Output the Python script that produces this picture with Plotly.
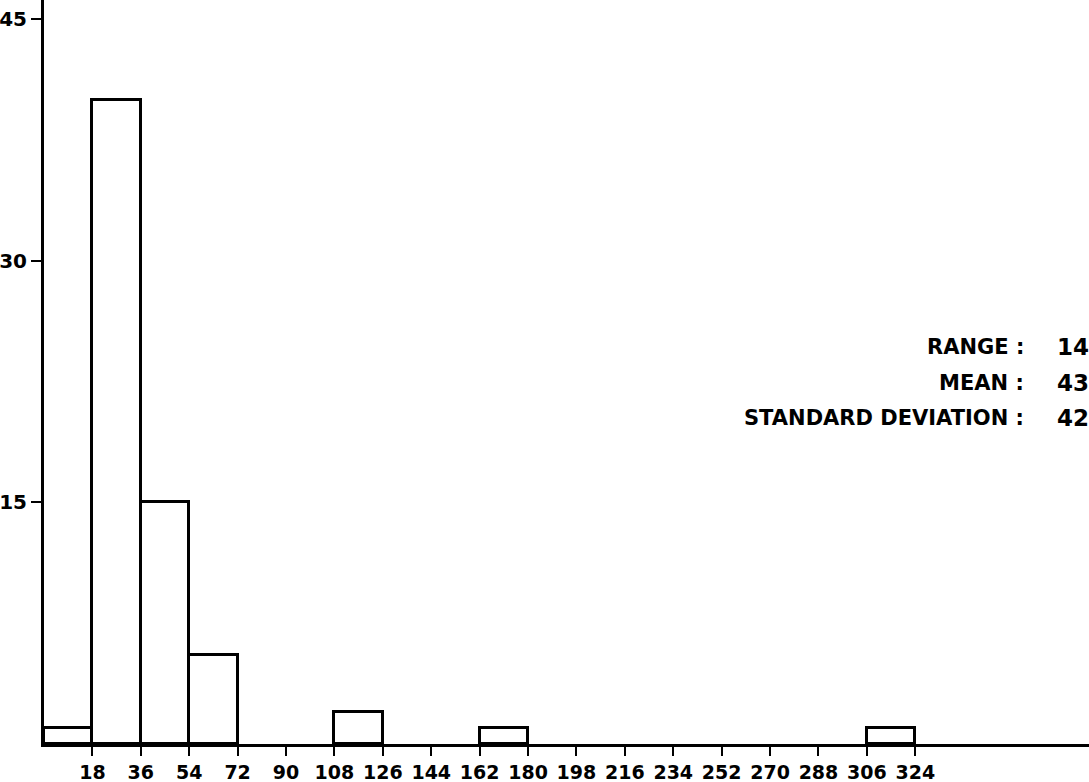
import plotly.graph_objects as go

# Frequency histogram, class width 18
bin_starts = [0, 18, 36, 54, 108, 162, 306]
counts = [1, 40, 15, 5.5, 2, 1, 1]
bin_width = 18

tick_vals = list(range(18, 325, 18))
tick_text = ["18", "36", "54", "72", "90", "108", "126", "144", "162", "180",
             "198", "216", "234", "252", "270", "288", "306", "324"]
y_ticks = [15, 30, 45]

stat_labels = ["RANGE :", "MEAN :", "STANDARD DEVIATION :"]
stat_values = ["14", "43", "42"]
stat_y = [24.65, 22.4, 20.25]

FONT = "DejaVu Sans"

fig = go.Figure()
fig.add_trace(go.Bar(
    x=[s + bin_width / 2 for s in bin_starts],
    y=counts,
    width=bin_width,
    marker=dict(color="white", line=dict(color="black", width=3)),
    hoverinfo="skip",
))

for lab, val, yv in zip(stat_labels, stat_values, stat_y):
    fig.add_annotation(x=0.9395, y=yv, xref="paper", yref="y", text=lab,
                       showarrow=False, xanchor="right", yanchor="middle",
                       font=dict(family=FONT, size=21, color="black", weight="bold"))
    fig.add_annotation(x=0.967, y=yv, xref="paper", yref="y", text=val,
                       showarrow=False, xanchor="left", yanchor="middle",
                       font=dict(family=FONT, size=23, color="black", weight="bold"))

fig.update_layout(
    width=1089, height=782,
    margin=dict(l=44, r=0, t=0, b=38),
    plot_bgcolor="white", paper_bgcolor="white",
    showlegend=False, bargap=0,
    xaxis=dict(range=[0, 388.6], tickvals=tick_vals, ticktext=tick_text,
               ticks="outside", ticklen=9, tickwidth=2, tickcolor="black",
               showline=True, linecolor="black", linewidth=3,
               showgrid=False, zeroline=False, automargin=False,
               tickfont=dict(family=FONT, size=19, color="black", weight="bold")),
    yaxis=dict(range=[0, 46.2], tickvals=y_ticks,
               ticks="outside", ticklen=10, tickwidth=2, tickcolor="black",
               showline=True, linecolor="black", linewidth=3,
               showgrid=False, zeroline=False, automargin=False,
               tickfont=dict(family=FONT, size=20, color="black", weight="bold")),
)

fig.write_html("out.html")
